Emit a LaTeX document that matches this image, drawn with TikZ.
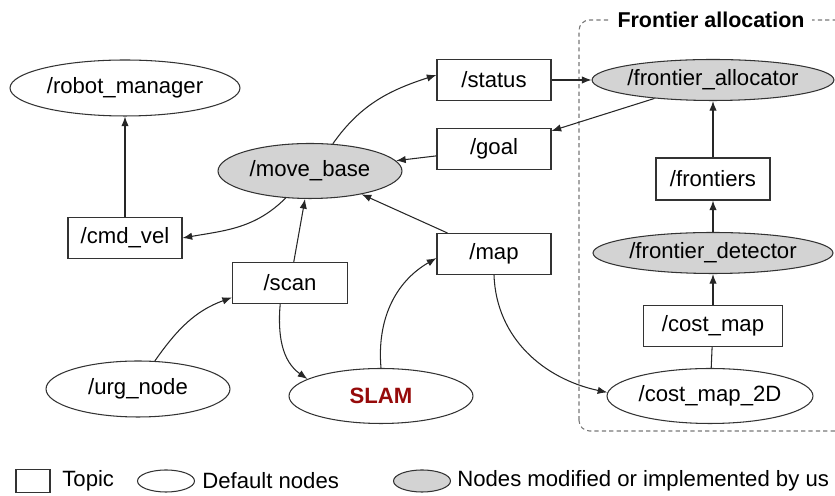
\documentclass[tikz,border=0pt]{standalone}
\usepackage{fontspec}
\setmainfont{Liberation Sans}
\usetikzlibrary{shapes.geometric,arrows.meta}

\definecolor{nodegray}{RGB}{211,211,211}
\definecolor{slamred}{RGB}{150,10,10}
\definecolor{framegray}{RGB}{120,120,120}

\tikzset{
  topic/.style={draw=black!80, rectangle, line width=0.6pt,
    minimum width=2.28cm, minimum height=0.82cm, inner sep=0pt},
  rosnode/.style={draw=black!80, ellipse, line width=0.6pt,
    minimum width=3.68cm, minimum height=1.1cm, inner sep=0pt},
  ournode/.style={rosnode, fill=nodegray},
  link/.style={->, line width=0.6pt, black!85},
  >={Latex[length=5.5pt,width=4.2pt]}
}

\begin{document}
\begin{tikzpicture}[x=0.02cm, y=0.02cm, font=\fontsize{12.6}{15}\selectfont]

  \clip (0, 0) rectangle (835, 496);

  % Frontier allocation group
  \draw [framegray, line width=0.6pt, dash pattern=on 2.4pt off 1.8pt,
         rounded corners=6pt] (579, 65) rectangle (880, 476);
  \node (grouptitle) [fill=white, inner xsep=4pt, font=\fontsize{12.2}{15}\selectfont\bfseries]
        at (711, 476) {Frontier allocation};

  %                                            x,   y
  \node (robot_manager) [rosnode, minimum width=4.6cm, minimum height=1.12cm]
        at (125, 408) {/robot\_manager};
  \node (move_base) [ournode] at (310, 325) {/move\_base};
  \node (cmd_vel) [topic] at (125, 258) {/cmd\_vel};
  \node (status) [topic] at (494, 416) {/status};
  \node (goal) [topic] at (494, 347) {/goal};
  \node (map) [topic] at (494, 242) {/map};
  \node (scan) [topic, minimum width=2.3cm] at (290, 213) {/scan};
  \node (urg_node) [rosnode, minimum height=1.12cm] at (138, 107) {/urg\_node};
  \node (slam) [rosnode] at (381, 100) {\textcolor{slamred}{\bfseries SLAM}};

  \node (frontier_allocator) [ournode, minimum width=4.8cm, minimum height=0.82cm]
        at (713, 416) {/frontier\_allocator};
  \node (frontiers) [topic, minimum height=0.84cm] at (713, 317) {/frontiers};
  \node (frontier_detector) [ournode, minimum width=4.8cm, minimum height=0.82cm]
        at (713, 243) {/frontier\_detector};
  \node (cost_map) [topic, minimum width=2.78cm] at (713, 170) {/cost\_map};
  \node (cost_map_2d) [rosnode, minimum width=4.12cm] at (710, 100) {/cost\_map\_2D};

  % Robot side
  \draw [link] (cmd_vel) -- (robot_manager);
  \draw [link] (move_base.228) to [out=225, in=10] (cmd_vel.east);
  \draw [link] (move_base.50) to [out=55, in=198] (status.175);
  \draw [link] (goal) -- (move_base);
  \draw [link] (map) -- (move_base);
  \draw [link] (scan) -- (move_base);
  \draw [link] (urg_node.59) to [out=55, in=200] (scan.194);
  \draw [link] (scan.245) to [out=265, in=145] (slam.167);
  \draw [link] (slam.north) to [out=95, in=210] (map.184);
  \draw [link] (map.south) to [out=272, in=168] (cost_map_2d.178);

  % Frontier side
  \draw [link] (status) -- (frontier_allocator);
  \draw [link] (frontier_allocator) -- (goal);
  \draw [line width=0.6pt, black!85] (cost_map_2d) -- (cost_map);
  \draw [link] (cost_map) -- (frontier_detector);
  \draw [link] (frontier_detector) -- (frontiers);
  \draw [link] (frontiers) -- (frontier_allocator);

  % Legend
  \node (leg_topic) [topic, minimum width=0.68cm, minimum height=0.46cm] at (33, 15) {};
  \node (leg_topic_txt) [anchor=west, inner sep=0pt] at (62, 15) {Topic};
  \node (leg_node) [rosnode, minimum width=1.14cm, minimum height=0.44cm] at (166, 15) {};
  \node (leg_node_txt) [anchor=west, inner sep=0pt] at (202, 15) {Default nodes};
  \node (leg_ours) [ournode, minimum width=1.14cm, minimum height=0.44cm] at (422, 15) {};
  \node (leg_ours_txt) [anchor=west, inner sep=0pt] at (457, 15)
        {Nodes modified or implemented by us};

\end{tikzpicture}
\end{document}
